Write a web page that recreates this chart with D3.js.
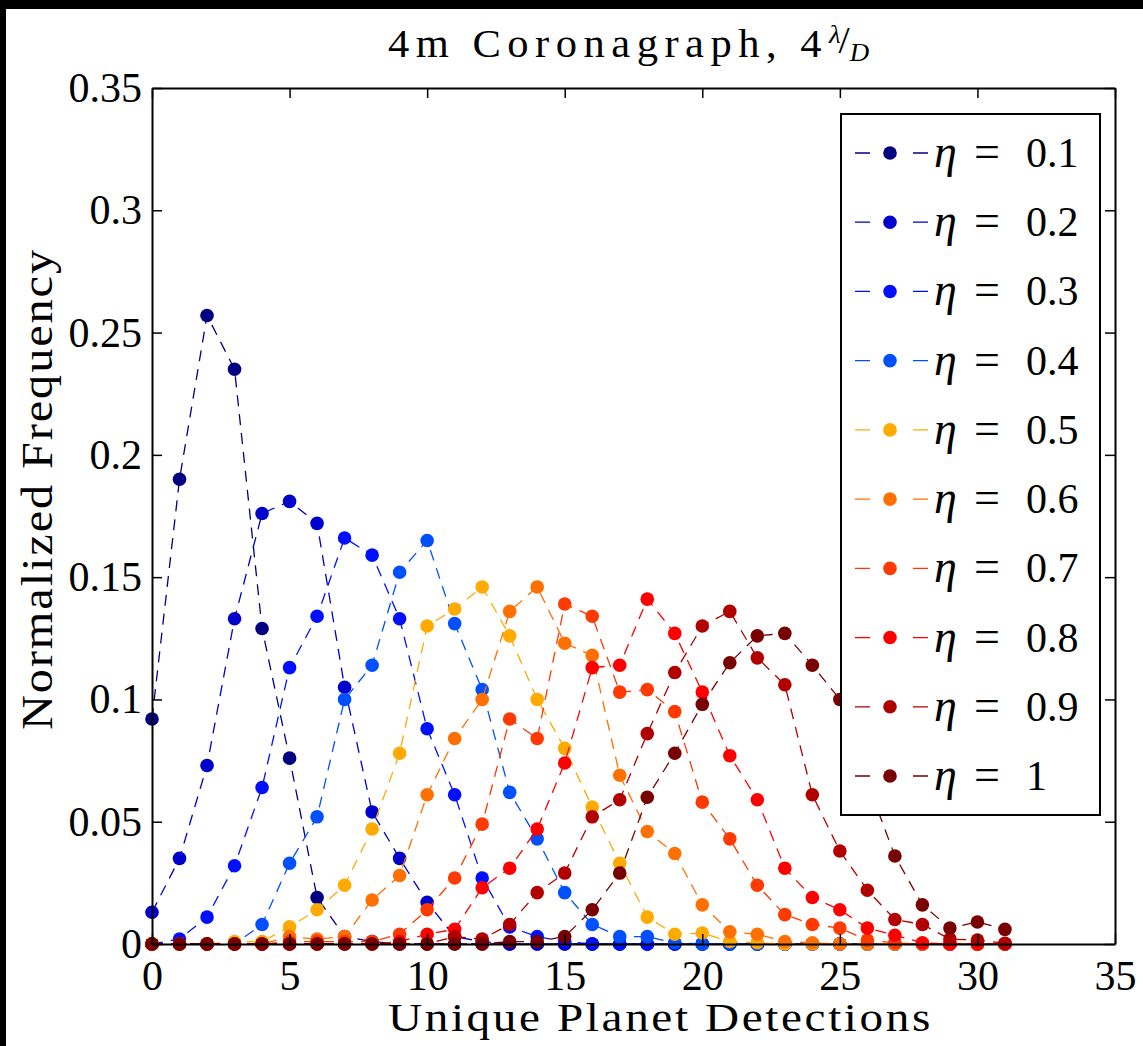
<!DOCTYPE html>
<html>
<head>
<meta charset="utf-8">
<script src="https://cdn.jsdelivr.net/npm/d3@7"></script>
<style>
  body { margin: 0; background: #fff; }
  svg { display: block; }
</style>
</head>
<body>
<svg></svg>
<script>
// detections on the x axis
var detections = [0,1,2,3,4,5,6,7,8,9,10,11,12,13,14,15,16,17,18,19,20,21,22,23,24,25,26,27,28,29,30,31];

// normalized frequency for each eta
var eta01 = [0.092,0.190,0.257,0.235,0.129,0.076,0.019,0.003,0.001,0,0,0,0,0,0,0,0,0,0,0,0,0,0,0,0,0,0,0,0,0,0,0];
var eta02 = [0.013,0.035,0.073,0.133,0.176,0.181,0.172,0.105,0.054,0.035,0.017,0.003,0.001,0,0,0,0,0,0,0,0,0,0,0,0,0,0,0,0,0,0,0];
var eta03 = [0,0.002,0.011,0.032,0.064,0.113,0.134,0.166,0.159,0.133,0.088,0.061,0.027,0.007,0.003,0.001,0,0,0,0,0,0,0,0,0,0,0,0,0,0,0,0];
var eta04 = [0,0,0,0,0.008,0.033,0.052,0.100,0.114,0.152,0.165,0.131,0.104,0.062,0.043,0.021,0.008,0.003,0.003,0.0005,0,0,0,0,0,0,0,0,0,0,0,0];
var eta05 = [0,0,0,0.001,0.001,0.007,0.014,0.024,0.047,0.078,0.130,0.137,0.146,0.126,0.100,0.080,0.056,0.033,0.011,0.004,0.0045,0.001,0.0005,0,0,0,0,0,0,0,0,0];
var eta06 = [0,0,0,0,0,0.003,0.002,0.003,0.018,0.028,0.061,0.084,0.100,0.136,0.146,0.123,0.118,0.069,0.046,0.037,0.016,0.005,0.004,0.001,0.0005,0,0,0,0,0,0,0];
var eta07 = [0,0,0,0,0,0.001,0.001,0.001,0.001,0.004,0.014,0.027,0.049,0.092,0.084,0.139,0.134,0.103,0.104,0.095,0.058,0.043,0.024,0.012,0.008,0.0065,0.0016,0.0005,0,0,0,0];
var eta08 = [0,0,0,0,0,0,0,0,0,0.001,0.004,0.006,0.023,0.031,0.047,0.074,0.113,0.114,0.141,0.127,0.103,0.077,0.059,0.031,0.019,0.014,0.0065,0.0036,0.0005,0,0,0];
var eta09 = [0,0,0,0,0,0,0,0,0,0,0,0.003,0.002,0.008,0.021,0.029,0.052,0.059,0.086,0.111,0.130,0.136,0.117,0.106,0.061,0.038,0.022,0.010,0.008,0.002,0.0016,0.0003];
var eta10 = [0,0,0,0,0,0,0,0,0,0,0,0,0,0.001,0.001,0.003,0.014,0.029,0.060,0.078,0.098,0.115,0.126,0.127,0.114,0.100,0.066,0.036,0.016,0.0065,0.009,0.006];

var seriesNames = ["0.1","0.2","0.3","0.4","0.5","0.6","0.7","0.8","0.9","1"];
var seriesValues = [eta01,eta02,eta03,eta04,eta05,eta06,eta07,eta08,eta09,eta10];
var seriesColors = ["#000080","#0000cc","#0010ff","#0050ff","#ffaa00","#ff7000","#ff3a00","#ff0000","#b00000","#780000"];

var xTicks = [0,5,10,15,20,25,30,35];
var yTicks = [0,0.05,0.1,0.15,0.2,0.25,0.3,0.35];

var svgWidth = 1143, svgHeight = 1046;
var plotLeft = 152, plotRight = 1115, plotTop = 88, plotBottom = 944;

var svg = d3.select("svg")
    .attr("width", svgWidth)
    .attr("height", svgHeight);

svg.append("rect").attr("width", svgWidth).attr("height", svgHeight).attr("fill", "#fff");
// black frame strips of the screenshot
svg.append("rect").attr("x", 0).attr("y", 0).attr("width", svgWidth).attr("height", 9).attr("fill", "#000");
svg.append("rect").attr("x", 0).attr("y", 0).attr("width", 6).attr("height", svgHeight).attr("fill", "#000");

var xScale = d3.scaleLinear().domain([0, 35]).range([plotLeft, plotRight]);
var yScale = d3.scaleLinear().domain([0, 0.35]).range([plotBottom, plotTop]);

var serif = "'Liberation Serif', 'Times New Roman', serif";

function fmtY(d) { return d === 0 ? "0" : String(d); }

var x_axis = d3.axisBottom(xScale).tickValues(xTicks).tickSizeInner(-10).tickSizeOuter(0).tickPadding(16);
var y_axis = d3.axisLeft(yScale).tickValues(yTicks).tickFormat(fmtY).tickSizeInner(-10).tickSizeOuter(0).tickPadding(10);
var x_top = d3.axisTop(xScale).tickValues(xTicks).tickFormat("").tickSizeInner(-10).tickSizeOuter(0);
var y_right = d3.axisRight(yScale).tickValues(yTicks).tickFormat("").tickSizeInner(-10).tickSizeOuter(0);

// series lines and markers
var line = d3.line()
    .x(function(d) { return xScale(d[0]); })
    .y(function(d) { return yScale(d[1]); });

seriesValues.forEach(function(vals, i) {
    var pts = detections.map(function(x, j) { return [x, vals[j]]; });
    var g = svg.append("g");
    g.append("path")
        .attr("d", line(pts))
        .attr("fill", "none")
        .attr("stroke", seriesColors[i])
        .attr("stroke-width", 1.3)
        .attr("stroke-dasharray", "11,8");
    g.selectAll("circle")
        .data(pts)
        .enter().append("circle")
        .attr("cx", function(d) { return xScale(d[0]); })
        .attr("cy", function(d) { return yScale(d[1]); })
        .attr("r", 6.8)
        .attr("fill", seriesColors[i]);
});

function styleAxis(g) {
    g.select(".domain").attr("stroke", "#000").attr("stroke-width", 2);
    g.selectAll(".tick line").attr("stroke", "#000").attr("stroke-width", 1.5);
    g.selectAll("text").attr("font-family", serif).attr("font-size", 42).attr("fill", "#000");
}

svg.append("g").attr("transform", "translate(0," + plotBottom + ")").call(x_axis).call(styleAxis);
svg.append("g").attr("transform", "translate(" + plotLeft + ",0)").call(y_axis).call(styleAxis);
svg.append("g").attr("transform", "translate(0," + plotTop + ")").call(x_top).call(styleAxis);
svg.append("g").attr("transform", "translate(" + plotRight + ",0)").call(y_right).call(styleAxis);

// stretch a label a bit and spread the rest with letter spacing
function fitWidth(sel, target, stretch) {
    var n = sel.text().length;
    var w = sel.node().getComputedTextLength() * stretch;
    sel.attr("letter-spacing", Math.max(0, (target - w) / n / stretch));
}

// title
var titleG = svg.append("g").attr("transform", "translate(388,57) scale(1.12,1.05)");
var title = titleG.append("text")
    .attr("font-family", serif).attr("font-size", 38).attr("fill", "#000");
var tMain = title.append("tspan").text("4m Coronagraph, 4");
fitWidth(tMain, 440, 1.12);
title.append("tspan").attr("font-size", 24).attr("font-style", "italic")
    .attr("letter-spacing", 0).attr("dy", -13).attr("dx", 1).text("λ");
title.append("tspan").attr("font-size", 36).attr("letter-spacing", 0)
    .attr("dy", 9).attr("dx", -2).text("/");
title.append("tspan").attr("font-size", 24).attr("font-style", "italic")
    .attr("letter-spacing", 0).attr("dy", 8).attr("dx", 0).text("D");

// x label
var xlG = svg.append("g").attr("transform", "translate(388,1031) scale(1.15,1)");
var xl = xlG.append("text")
    .attr("font-family", serif).attr("font-size", 41).attr("fill", "#000")
    .text("Unique Planet Detections");
fitWidth(xl, 545, 1.15);

// y label
var ylG = svg.append("g").attr("transform", "translate(52,730) rotate(-90) scale(1.15,1.03)");
var yl = ylG.append("text")
    .attr("font-family", serif).attr("font-size", 42).attr("fill", "#000")
    .text("Normalized Frequency");
fitWidth(yl, 482, 1.15);

// legend
var legX = 841, legY = 114, legW = 259, legH = 701;
var lg = svg.append("g");
lg.append("rect")
    .attr("x", legX).attr("y", legY).attr("width", legW).attr("height", legH)
    .attr("fill", "#fff").attr("stroke", "#000").attr("stroke-width", 2);

var legScale = d3.scalePoint().domain(seriesNames).range([153, 776]);

seriesNames.forEach(function(name, i) {
    var cy = legScale(name);
    lg.append("line")
        .attr("x1", 855).attr("x2", 928).attr("y1", cy).attr("y2", cy)
        .attr("stroke", seriesColors[i]).attr("stroke-width", 1.3)
        .attr("stroke-dasharray", "15,43");
    lg.append("circle").attr("cx", 890).attr("cy", cy).attr("r", 6.8).attr("fill", seriesColors[i]);
    var t = lg.append("text")
        .attr("y", cy + 14)
        .attr("font-family", serif).attr("font-size", 42).attr("fill", "#000");
    t.append("tspan").attr("x", 934).attr("font-style", "italic").attr("font-size", 46).text("η");
    t.append("tspan").attr("x", 974).attr("font-size", 46).text("=");
    t.append("tspan").attr("x", 1026).text(name);
});
</script>
</body>
</html>
